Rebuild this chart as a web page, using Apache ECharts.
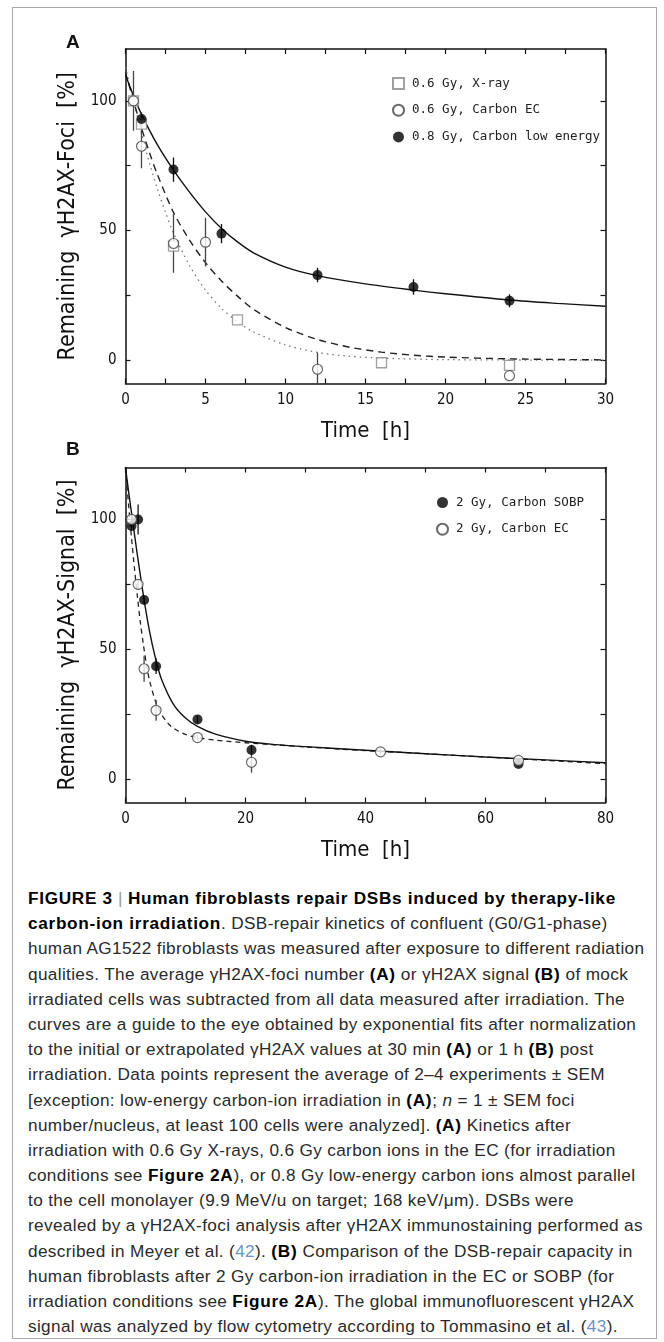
<!DOCTYPE html>
<html>
<head>
<meta charset="utf-8">
<script src="https://cdn.jsdelivr.net/npm/echarts@6/dist/echarts.min.js"></script>
<style>
  html, body { margin: 0; padding: 0; background: #fff; }
  body { width: 664px; height: 1342px; position: relative; overflow: hidden; }
  #frame { position: absolute; left: 12px; top: 7px; width: 645px; height: 1332px; border: 1.5px solid #a8a8a8; box-sizing: border-box; }
  #chart { position: absolute; left: 0; top: 0; width: 664px; height: 880px; }
  #caption { position: absolute; left: 28px; top: 886px; font-family: 'Liberation Sans', Arial, sans-serif; font-size: 17.2px; letter-spacing: 0.35px; color: #2a2a2a; }
  #caption div { white-space: nowrap; height: 25.2px; line-height: 25.2px; }
  #caption b { font-weight: bold; color: #000; letter-spacing: 0.7px; }
  .bar { color: #999; font-weight: normal; }
  .ref { color: #6f93c2; }
</style>
</head>
<body>
<div id="frame"></div>
<div id="chart"></div>
<div id="caption">
<div><b>FIGURE 3</b> <span class="bar">|</span> <b>Human fibroblasts repair DSBs induced by therapy-like</b></div>
<div><b>carbon-ion irradiation</b>. DSB-repair kinetics of confluent (G0/G1-phase)</div>
<div>human AG1522 fibroblasts was measured after exposure to different radiation</div>
<div>qualities. The average γH2AX-foci number <b>(A)</b> or γH2AX signal <b>(B)</b> of mock</div>
<div>irradiated cells was subtracted from all data measured after irradiation. The</div>
<div>curves are a guide to the eye obtained by exponential fits after normalization</div>
<div>to the initial or extrapolated γH2AX values at 30 min <b>(A)</b> or 1 h <b>(B)</b> post</div>
<div>irradiation. Data points represent the average of 2–4 experiments ± SEM</div>
<div>[exception: low-energy carbon-ion irradiation in <b>(A)</b>; <i>n</i> = 1 ± SEM foci</div>
<div>number/nucleus, at least 100 cells were analyzed]. <b>(A)</b> Kinetics after</div>
<div>irradiation with 0.6 Gy X-rays, 0.6 Gy carbon ions in the EC (for irradiation</div>
<div>conditions see <b>Figure 2A</b>), or 0.8 Gy low-energy carbon ions almost parallel</div>
<div>to the cell monolayer (9.9 MeV/u on target; 168 keV/μm). DSBs were</div>
<div>revealed by a γH2AX-foci analysis after γH2AX immunostaining performed as</div>
<div>described in Meyer et al. (<span class="ref">42</span>). <b>(B)</b> Comparison of the DSB-repair capacity in</div>
<div>human fibroblasts after 2 Gy carbon-ion irradiation in the EC or SOBP (for</div>
<div>irradiation conditions see <b>Figure 2A</b>). The global immunofluorescent γH2AX</div>
<div>signal was analyzed by flow cytometry according to Tommasino et al. (<span class="ref">43</span>).</div>
</div>
<script>
// ---------- Panel A data ----------
const xrayT = [0.5, 1, 3, 7, 16, 24];
const xrayV = [100, 91, 44, 15.5, -1, -2];
const xrayErr = [0, 0, 0, 0, 0, 0];

const ecAT = [0.5, 1, 3, 5, 12, 24];
const ecAV = [100, 82.5, 45, 45.5, -3.5, -6];
const ecAErr = [11.5, 8.5, 11.3, 9.4, 6.5, 0];

const lowT = [1, 3, 6, 12, 18, 24];
const lowV = [93, 73.5, 48.8, 32.8, 28.2, 22.9];
const lowErr = [2.5, 4.7, 3.7, 2.8, 3, 2.5];

// fitted curves (Panel A)
const fitLowT = [0, 0.5, 1, 2, 3, 4, 5, 6, 7, 8, 10, 12, 15, 18, 20, 24, 27, 30];
const fitLowV = [110, 102, 94.8, 83, 73.3, 64.8, 57.2, 50.8, 45.6, 41.4, 35.9, 32.6, 29.4, 27, 25.6, 23.2, 21.9, 20.8];
const fitEcAT = [0, 0.5, 1, 1.5, 2, 3, 4, 5, 6, 7, 8, 10, 12, 14, 16, 18, 20, 24, 30];
const fitEcAV = [111, 100, 89.5, 80, 71.5, 57, 46.3, 37.6, 30.5, 24.7, 19.6, 12.6, 8, 5, 3.1, 1.9, 1.2, 0.5, 0.1];
const fitXrayT = [0, 0.5, 1, 1.5, 2, 2.5, 3, 4, 5, 6, 7, 8, 10, 12, 14, 16, 20, 30];
const fitXrayV = [113, 100, 87.5, 76, 66, 57, 49, 36.5, 27, 20, 14.8, 10.9, 5.9, 3, 1.5, 0.8, 0.2, 0];

// ---------- Panel B data ----------
const sobpT = [1, 2.1, 3.1, 5.1, 12, 21, 65.5];
const sobpV = [97.5, 100, 69, 43.5, 23, 11.2, 5.8];
const sobpErr = [2, 5.8, 1.5, 3, 1.5, 2, 1];

const ecBT = [1, 2.1, 3.1, 5.1, 12, 21, 42.5, 65.5];
const ecBV = [100, 75, 42.5, 26.5, 16, 6.5, 10.5, 7.2];
const ecBErr = [1, 2, 5, 4, 1, 4, 1, 1];

const fitSobpT = [0, 0.5, 1, 2, 3, 4, 5, 6, 8, 10, 12, 15, 20, 25, 30, 40, 50, 60, 70, 80];
const fitSobpV = [120, 111, 102.5, 86, 70.5, 57, 46.5, 38.5, 28.8, 23.5, 20.3, 17.3, 14.6, 13.3, 12.5, 11.1, 9.8, 8.5, 7.4, 6.3];
const fitEcBT = [0, 0.5, 1, 1.5, 2, 2.5, 3, 3.5, 4, 5, 6, 7, 8, 10, 12, 15, 20, 25, 30, 40, 50, 60, 70, 80];
const fitEcBV = [120, 106, 93, 81, 70, 60, 51.5, 44, 38, 30, 25, 21.7, 19.6, 17.2, 16, 15, 14, 13.2, 12.4, 11, 9.8, 8.5, 7.2, 6];

// ---------- ticks ----------
const xTicksA = [0, 2.5, 5, 7.5, 10, 12.5, 15, 17.5, 20, 22.5, 25, 27.5, 30];
const xLabelsA = [0, 5, 10, 15, 20, 25, 30];
const xTicksB = [0, 10, 20, 30, 40, 50, 60, 70, 80];
const xLabelsB = [0, 20, 40, 60, 80];
const yTicks = [0, 25, 50, 75, 100];
const yLabels = [0, 50, 100];

const legendNamesA = ['0.6 Gy, X-ray', '0.6 Gy, Carbon EC', '0.8 Gy, Carbon low energy'];
const legendNamesB = ['2 Gy, Carbon SOBP', '2 Gy, Carbon EC'];

const zip = (a, b) => a.map((v, i) => [v, b[i]]);
const errData = (t, v, e) => t.map((x, i) => [x, v[i] - e[i], v[i] + e[i]]).filter((d, i) => e[i] > 0);

const axisFont = "'Liberation Sans Narrow', 'DejaVu Sans Condensed', 'Liberation Sans', sans-serif";
const monoFont = "'DejaVu Sans Mono', 'Liberation Mono', monospace";

function xAx(grid, max, ticks, labels, pos, withName) {
  return {
    type: 'value', gridIndex: grid, min: 0, max: max, position: pos,
    axisLine: { show: true, onZero: false, lineStyle: { color: '#111', width: 1.5 } },
    axisTick: { show: true, inside: true, length: 5, customValues: ticks, lineStyle: { color: '#111', width: 1.2 } },
    axisLabel: { show: pos === 'bottom', customValues: labels, margin: 9, fontFamily: axisFont, fontSize: 15, color: '#111' },
    splitLine: { show: false },
    name: withName ? 'Time  [h]' : '', nameLocation: 'middle', nameGap: 37,
    nameTextStyle: { fontFamily: axisFont, fontSize: 22, color: '#111' }
  };
}
function yAx(grid, pos, title) {
  return {
    type: 'value', gridIndex: grid, min: -9, max: 120, position: pos,
    axisLine: { show: true, onZero: false, lineStyle: { color: '#111', width: 1.5 } },
    axisTick: { show: true, inside: true, length: 5, customValues: yTicks, lineStyle: { color: '#111', width: 1.2 } },
    axisLabel: { show: pos === 'left', customValues: yLabels, margin: 9, fontFamily: axisFont, fontSize: 15, color: '#111' },
    splitLine: { show: false },
    name: title || '', nameLocation: 'middle', nameGap: 42, nameRotate: 90,
    nameTextStyle: { fontFamily: axisFont, fontSize: 23, color: '#111' }
  };
}

function errSeries(name, xi, yi, data, color) {
  return {
    type: 'custom', name: name, xAxisIndex: xi, yAxisIndex: yi, z: 3, silent: true,
    data: data,
    renderItem: function (params, api) {
      const p1 = api.coord([api.value(0), api.value(1)]);
      const p2 = api.coord([api.value(0), api.value(2)]);
      return { type: 'line', shape: { x1: p1[0], y1: p1[1], x2: p2[0], y2: p2[1] },
               style: { stroke: color, lineWidth: 1.3 } };
    },
    clip: true
  };
}
function fitSeries(name, xi, yi, t, v, type, color, width) {
  return {
    type: 'line', name: name, xAxisIndex: xi, yAxisIndex: yi, data: zip(t, v),
    showSymbol: false, smooth: 0.3, clip: true, z: 2, silent: true,
    lineStyle: { color: color, width: width, type: type }
  };
}

const chart = echarts.init(document.getElementById('chart'), null, { renderer: 'canvas' });
chart.setOption({
  animation: false,
  backgroundColor: 'transparent',
  grid: [
    { left: 125.5, top: 49, width: 480, height: 334.5 },
    { left: 125.5, top: 467.5, width: 480, height: 335 }
  ],
  xAxis: [
    xAx(0, 30, xTicksA, xLabelsA, 'bottom', true),
    xAx(0, 30, xTicksA, xLabelsA, 'top', false),
    xAx(1, 80, xTicksB, xLabelsB, 'bottom', true),
    xAx(1, 80, xTicksB, xLabelsB, 'top', false)
  ],
  yAxis: [
    yAx(0, 'left', 'Remaining  γH2AX-Foci  [%]'),
    yAx(0, 'right'),
    yAx(1, 'left', 'Remaining  γH2AX-Signal  [%]'),
    yAx(1, 'right')
  ],
  legend: [
    { data: legendNamesA, orient: 'vertical', left: 387, top: 72, itemWidth: 11, itemHeight: 11, itemGap: 13.7,
      textStyle: { fontFamily: monoFont, fontSize: 12.5, color: '#222', padding: [0, 0, 0, 3] }, selectedMode: false },
    { data: legendNamesB, orient: 'vertical', left: 431, top: 491, itemWidth: 11, itemHeight: 11, itemGap: 13.7,
      textStyle: { fontFamily: monoFont, fontSize: 12.5, color: '#222', padding: [0, 0, 0, 3] }, selectedMode: false }
  ],
  series: [
    fitSeries('fit X-ray', 0, 0, fitXrayT, fitXrayV, [1.5, 4], '#777', 1.3),
    fitSeries('fit EC A', 0, 0, fitEcAT, fitEcAV, [7, 5], '#222', 1.4),
    fitSeries('fit low', 0, 0, fitLowT, fitLowV, 'solid', '#111', 1.4),
    errSeries('err X', 0, 0, errData(xrayT, xrayV, xrayErr), '#777'),
    errSeries('err ECA', 0, 0, errData(ecAT, ecAV, ecAErr), '#444'),
    errSeries('err low', 0, 0, errData(lowT, lowV, lowErr), '#111'),
    { type: 'scatter', name: legendNamesA[0], xAxisIndex: 0, yAxisIndex: 0, data: zip(xrayT, xrayV), z: 4,
      symbol: 'rect', symbolSize: 10, itemStyle: { color: '#fff', borderColor: '#888', borderWidth: 1.3 } },
    { type: 'scatter', name: legendNamesA[1], xAxisIndex: 0, yAxisIndex: 0, data: zip(ecAT, ecAV), z: 5,
      symbol: 'circle', symbolSize: 10, itemStyle: { color: '#fff', borderColor: '#444', borderWidth: 1.2 } },
    { type: 'scatter', name: legendNamesA[2], xAxisIndex: 0, yAxisIndex: 0, data: zip(lowT, lowV), z: 6,
      symbol: 'circle', symbolSize: 10, itemStyle: { color: '#000', borderColor: '#000', borderWidth: 0 } },

    fitSeries('fit EC B', 2, 2, fitEcBT, fitEcBV, [5, 4], '#222', 1.3),
    fitSeries('fit SOBP', 2, 2, fitSobpT, fitSobpV, 'solid', '#111', 1.4),
    errSeries('err SOBP', 2, 2, errData(sobpT, sobpV, sobpErr), '#111'),
    errSeries('err ECB', 2, 2, errData(ecBT, ecBV, ecBErr), '#444'),
    { type: 'scatter', name: legendNamesB[0], xAxisIndex: 2, yAxisIndex: 2, data: zip(sobpT, sobpV), z: 5,
      symbol: 'circle', symbolSize: 10, itemStyle: { color: '#000', borderColor: '#000', borderWidth: 0 } },
    { type: 'scatter', name: legendNamesB[1], xAxisIndex: 2, yAxisIndex: 2, data: zip(ecBT, ecBV), z: 6,
      symbol: 'circle', symbolSize: 10, itemStyle: { color: '#fff', borderColor: '#444', borderWidth: 1.2 } }
  ],
  graphic: [
    { type: 'text', left: 66, top: 33, style: { text: 'A', font: "bold 19px 'Liberation Sans', Arial, sans-serif", fill: '#111' } },
    { type: 'text', left: 66, top: 440, style: { text: 'B', font: "bold 19px 'Liberation Sans', Arial, sans-serif", fill: '#111' } }
  ]
});
</script>
</body>
</html>
